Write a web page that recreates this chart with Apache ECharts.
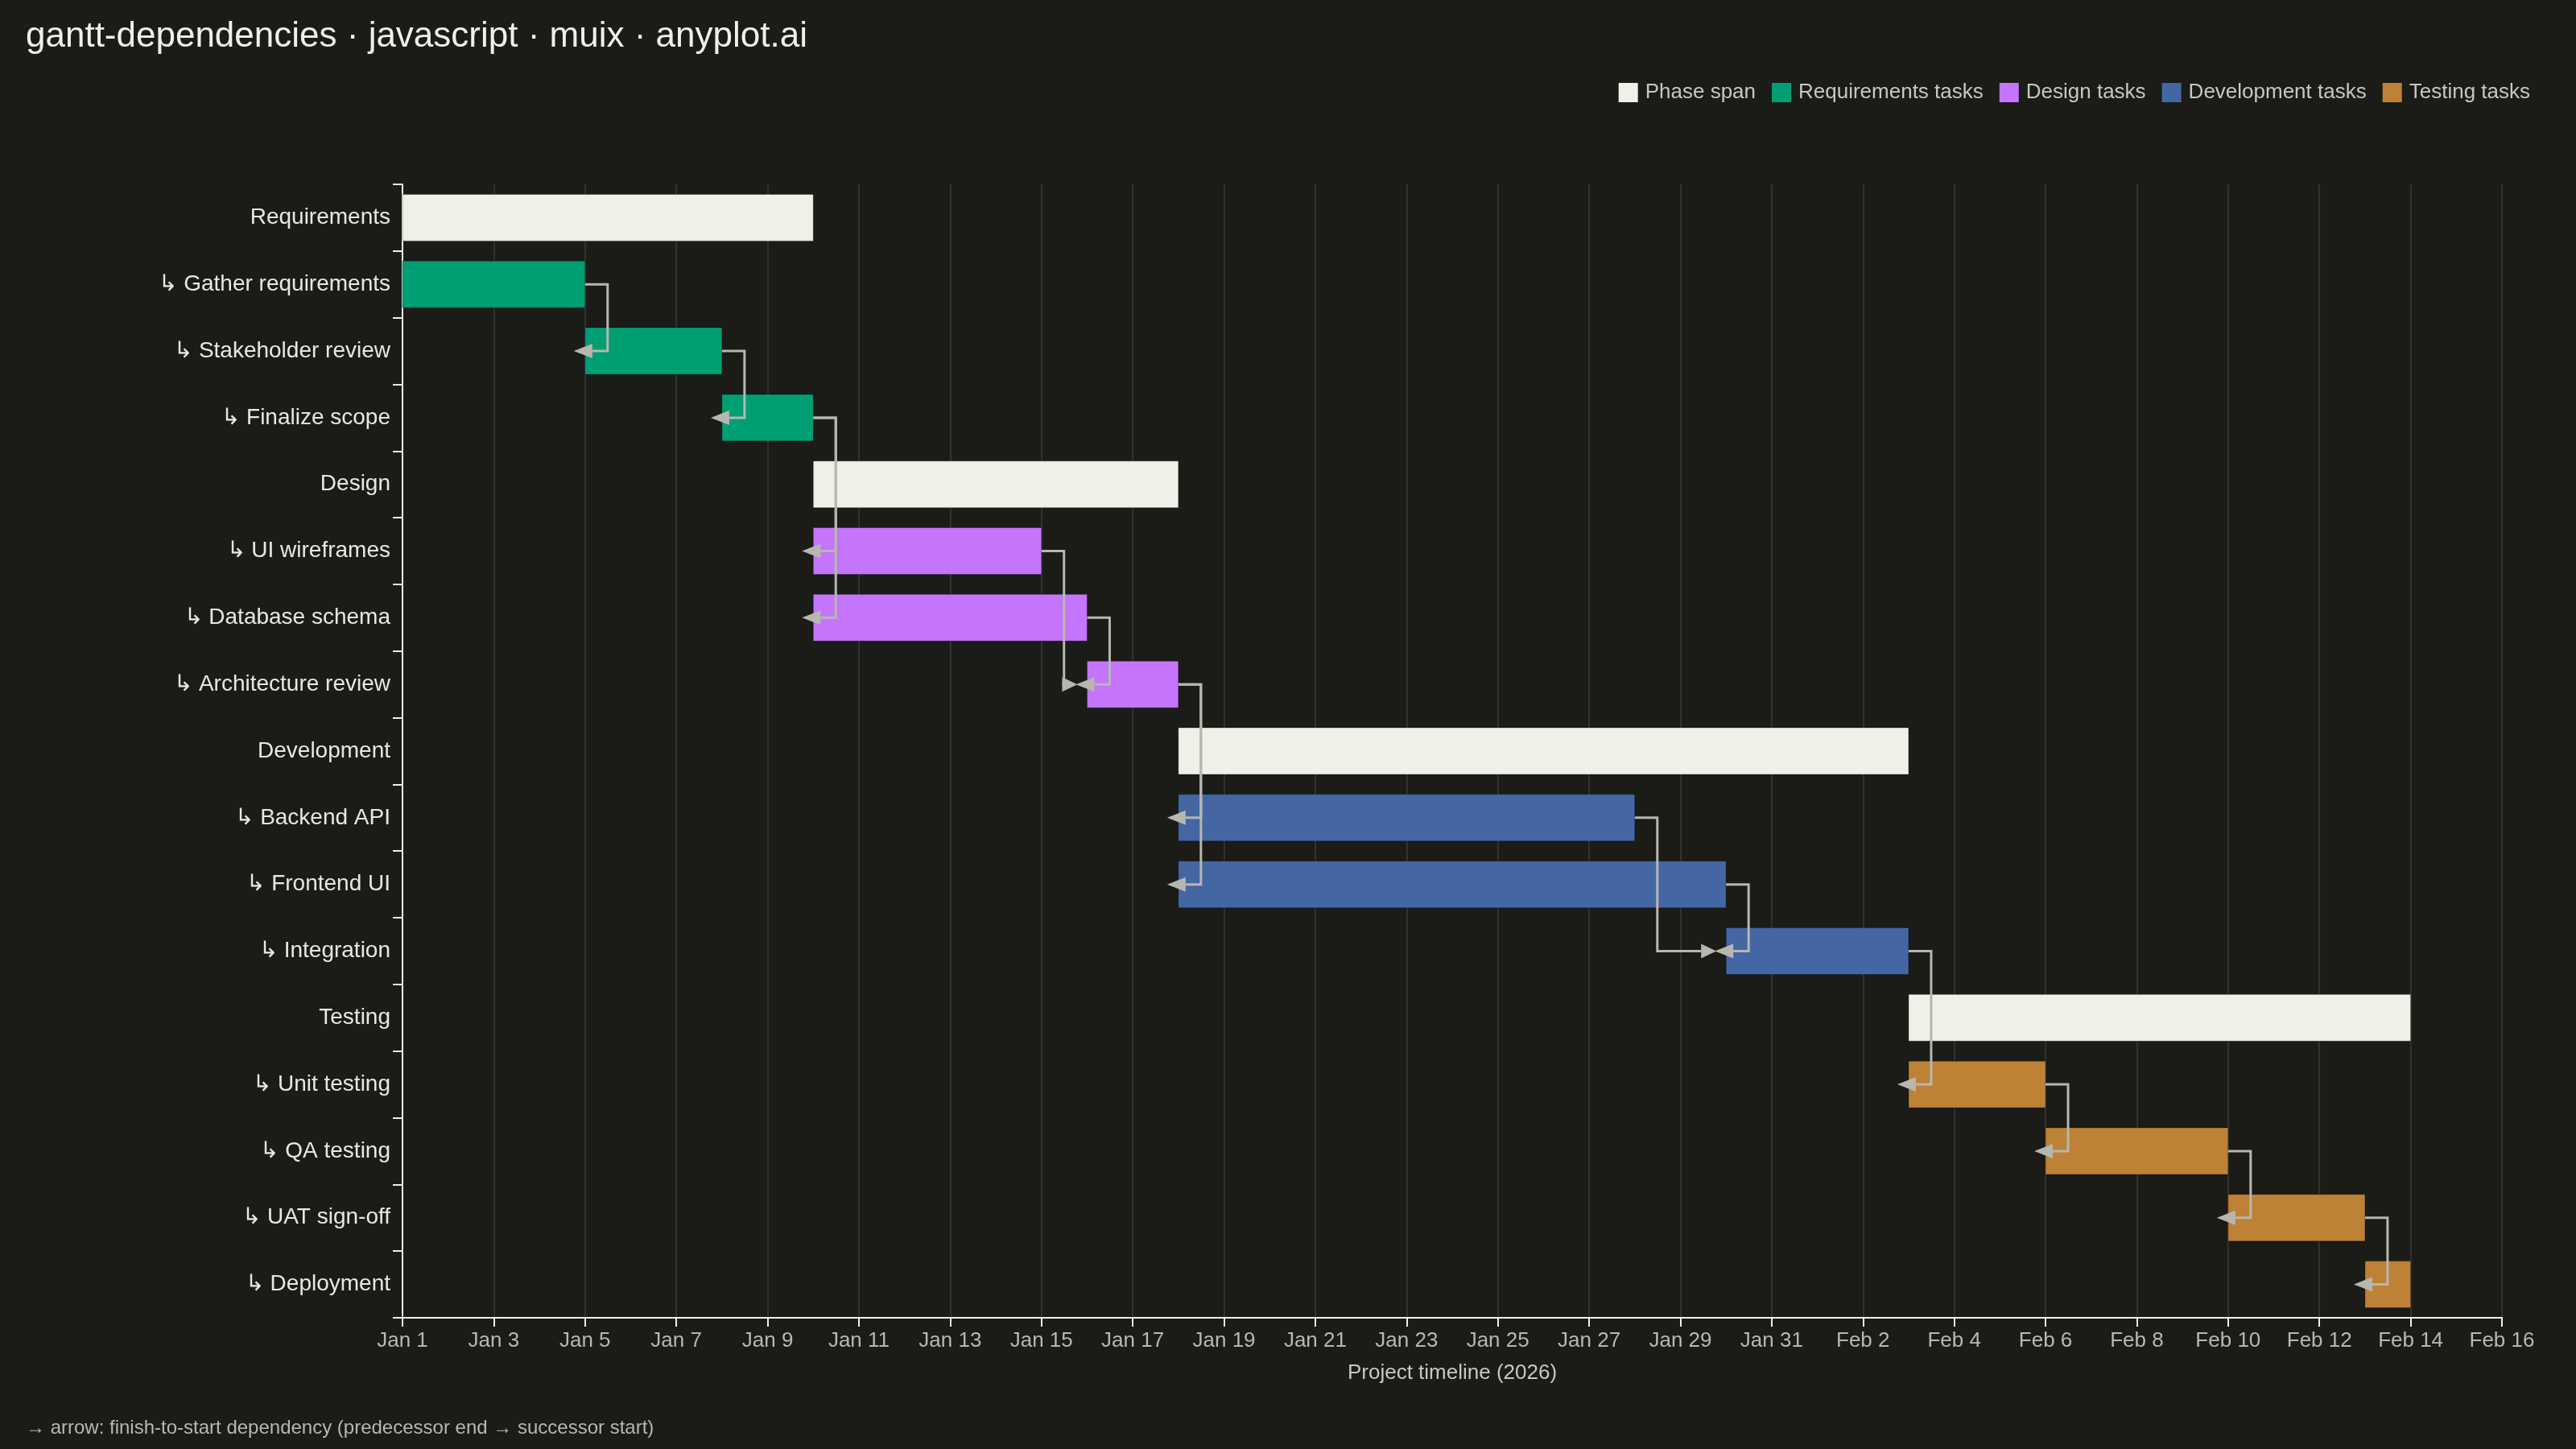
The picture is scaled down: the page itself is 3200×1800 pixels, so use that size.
<!DOCTYPE html>
<html>
<head>
<meta charset="utf-8">
<title>gantt-dependencies</title>
<script src="https://cdn.jsdelivr.net/npm/echarts@6.0.0/dist/echarts.min.js"></script>
<style>
  html, body { margin: 0; padding: 0; background: #1b1b17; }
  #chart { width: 3200px; height: 1800px; }
</style>
</head>
<body>
<div id="chart"></div>
<script>
// rows top to bottom
var rowLabels = ['Requirements', '↳ Gather requirements', '↳ Stakeholder review', '↳ Finalize scope',
  'Design', '↳ UI wireframes', '↳ Database schema', '↳ Architecture review',
  'Development', '↳ Backend API', '↳ Frontend UI', '↳ Integration',
  'Testing', '↳ Unit testing', '↳ QA testing', '↳ UAT sign-off', '↳ Deployment'];
var startDates = ['2026-01-01', '2026-01-01', '2026-01-05', '2026-01-08',
  '2026-01-10', '2026-01-10', '2026-01-10', '2026-01-16',
  '2026-01-18', '2026-01-18', '2026-01-18', '2026-01-30',
  '2026-02-03', '2026-02-03', '2026-02-06', '2026-02-10', '2026-02-13'];
var endDates = ['2026-01-10', '2026-01-05', '2026-01-08', '2026-01-10',
  '2026-01-18', '2026-01-15', '2026-01-16', '2026-01-18',
  '2026-02-03', '2026-01-28', '2026-01-30', '2026-02-03',
  '2026-02-14', '2026-02-06', '2026-02-10', '2026-02-13', '2026-02-14'];
var rowGroup = ['Phase span', 'Requirements tasks', 'Requirements tasks', 'Requirements tasks',
  'Phase span', 'Design tasks', 'Design tasks', 'Design tasks',
  'Phase span', 'Development tasks', 'Development tasks', 'Development tasks',
  'Phase span', 'Testing tasks', 'Testing tasks', 'Testing tasks', 'Testing tasks'];
// finish-to-start links: [predecessor row, successor row]
var dependencies = [[1, 2], [2, 3], [3, 5], [3, 6], [5, 7], [6, 7], [7, 9], [7, 10],
  [9, 11], [10, 11], [11, 13], [13, 14], [14, 15], [15, 16]];

var groupNames = ['Phase span', 'Requirements tasks', 'Design tasks', 'Development tasks', 'Testing tasks'];
var groupColors = ['#f0efe8', '#009e73', '#c475fb', '#4466a3', '#bd8236'];

var months = ['Jan', 'Feb', 'Mar'];
var day0 = Date.UTC(2026, 0, 1);
function dayOf(s) {
  var p = s.split('-');
  return (Date.UTC(+p[0], +p[1] - 1, +p[2]) - day0) / 86400000;
}

var chart = echarts.init(document.getElementById('chart'));

function barItem(params, api) {
  var a = api.coord([api.value(1), api.value(0)]);
  var b = api.coord([api.value(2), api.value(0)]);
  var h = api.size([0, 1])[1] * 0.7;
  return {
    type: 'rect',
    shape: { x: a[0], y: a[1] - h / 2, width: b[0] - a[0], height: h },
    style: { fill: api.visual('color'), stroke: 'rgba(0,0,0,0.3)', lineWidth: 1 }
  };
}

var series = groupNames.map(function (g, k) {
  var data = [];
  rowLabels.forEach(function (r, i) {
    if (rowGroup[i] === g) data.push([i, dayOf(startDates[i]), dayOf(endDates[i])]);
  });
  return {
    name: g,
    type: 'custom',
    renderItem: barItem,
    itemStyle: { color: groupColors[k] },
    encode: { x: [1, 2], y: 0 },
    data: data,
    z: 2
  };
});

series.push({
  name: 'deps',
  type: 'custom',
  z: 5,
  silent: true,
  encode: { x: [0, 2], y: [1, 3] },
  data: dependencies.map(function (d) {
    return [dayOf(endDates[d[0]]), d[0], dayOf(startDates[d[1]]), d[1]];
  }),
  renderItem: function (params, api) {
    var p = api.coord([api.value(0), api.value(1)]);
    var s = api.coord([api.value(2), api.value(3)]);
    var ex = p[0] + 28;
    var tip, base;
    if (s[0] < ex) { tip = s[0] - 14; base = s[0] + 9; }
    else { tip = s[0] - 12; base = s[0] - 31; }
    var col = '#b7b7b0';
    return {
      type: 'group',
      children: [{
        type: 'polyline',
        shape: { points: [p, [ex, p[1]], [ex, s[1]], [base, s[1]]] },
        style: { stroke: col, lineWidth: 3, fill: null }
      }, {
        type: 'polygon',
        shape: { points: [[tip, s[1]], [base, s[1] - 9], [base, s[1] + 9]] },
        style: { fill: col }
      }]
    };
  }
});

var option = {
  backgroundColor: '#1b1b17',
  textStyle: { fontFamily: '"Liberation Sans", Arial, sans-serif' },
  title: {
    text: 'gantt-dependencies · javascript · muix · anyplot.ai',
    left: 27,
    top: 19,
    textStyle: { fontSize: 44, fontWeight: 'normal', color: '#f0efe8' }
  },
  legend: {
    data: groupNames,
    right: 52,
    top: 97,
    icon: 'rect',
    itemWidth: 24,
    itemHeight: 24,
    itemGap: 20,
    textStyle: { fontSize: 26, color: '#c8c8c0', padding: [0, 0, 0, 4] }
  },
  grid: { left: 500, right: 92, top: 229, bottom: 163 },
  xAxis: {
    type: 'value',
    min: 0,
    max: 46,
    interval: 2,
    name: 'Project timeline (2026)',
    nameLocation: 'middle',
    nameGap: 56,
    nameTextStyle: { fontSize: 26, color: '#c8c8c0' },
    axisLine: { show: true, lineStyle: { color: '#f0efe8', width: 2 } },
    axisTick: { show: true, length: 11, lineStyle: { color: '#f0efe8', width: 2 } },
    axisLabel: {
      fontSize: 26,
      color: '#b8b8b0',
      margin: 16,
      formatter: function (v) {
        var d = new Date(day0 + v * 86400000);
        return months[d.getUTCMonth()] + ' ' + d.getUTCDate();
      }
    },
    splitLine: { show: true, lineStyle: { color: '#3a3a36', width: 1.5 } }
  },
  yAxis: {
    type: 'category',
    inverse: true,
    data: rowLabels,
    axisLine: { show: true, lineStyle: { color: '#f0efe8', width: 2 } },
    axisTick: { show: true, length: 12, lineStyle: { color: '#f0efe8', width: 2 } },
    axisLabel: { fontSize: 28, color: '#e8e8e0', margin: 15 },
    splitLine: { show: false }
  },
  graphic: [{
    type: 'text',
    left: 32,
    top: 1762,
    style: {
      text: '→ arrow: finish-to-start dependency (predecessor end → successor start)',
      fontSize: 24,
      fill: '#b8b8b0',
      fontFamily: '"Liberation Sans", Arial, sans-serif'
    }
  }],
  series: series
};

chart.setOption(option);
</script>
</body>
</html>
